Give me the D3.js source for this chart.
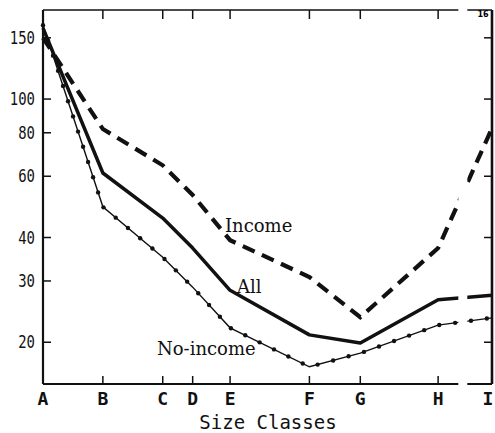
<!DOCTYPE html>
<html>
<head>
<meta charset="utf-8">
<script src="https://cdn.jsdelivr.net/npm/d3@7"></script>
<style>
  body { margin: 0; background: #fff; }
  svg { display: block; }
  .tick-label { font-family: "DejaVu Sans Mono", monospace; font-size: 17px; fill: #111; }
  .cat-label { font-family: "DejaVu Sans Mono", monospace; font-size: 18px; font-weight: bold; fill: #111; }
  .series-label { font-family: "DejaVu Serif", serif; font-size: 18px; fill: #111; }
  .title { font-family: "DejaVu Sans Mono", monospace; font-size: 19px; fill: #111; }
</style>
</head>
<body>
<div id="chart"></div>
<script>
// size classes and where they sit on the (uneven) class scale
var classes = ["A", "B", "C", "D", "E", "F", "G", "H", "I"]
var classMarks = [0, 4, 8, 10, 12.5, 17.8, 21.2, 26.4, 30]

// series values
var incomeValues = [150, 82, 64.5, 53, 39.3, 30.8, 23.6, 37.3, 82.5]
var allValues = [160, 61.3, 45.5, 37.3, 28.2, 21.0, 19.9, 26.5, 27.3]
var noIncomeValues = [163, 49, 35.1, 28.8, 22.0, 17.0, 18.6, 22.4, 23.5]

var yTicks = [20, 30, 40, 60, 80, 100, 150]
var yTicksRight = [20, 40, 60, 100, 150]

/**
 * build the rows for one series
 * @param {Array} values - y values
 */
function makeRows(values) {
    return values.map(function (v, i) {
        return { cls: classes[i], mark: classMarks[i], value: v }
    })
}

function drawChart() {
    var width = 495
    var height = 433
    var left = 43, right = 492, top = 10, bottom = 384

    var svg = d3.select("#chart")
        .append("svg")
        .attr("width", width)
        .attr("height", height)

    var x = d3.scaleLinear().domain([0, 30]).range([left, right])
    var y = d3.scaleLog().domain([15.17, 180.3]).range([bottom, top])

    var line = d3.line()
        .x(function (d) { return x(d.mark) })
        .y(function (d) { return y(d.value) })

    // frame
    svg.append("line").attr("x1", left).attr("x2", left).attr("y1", top).attr("y2", bottom)
        .attr("stroke", "#111").attr("stroke-width", 2.2)
    svg.append("line").attr("x1", left).attr("x2", right).attr("y1", bottom).attr("y2", bottom)
        .attr("stroke", "#111").attr("stroke-width", 2)
    svg.append("line").attr("x1", left).attr("x2", right).attr("y1", top).attr("y2", top)
        .attr("stroke", "#111").attr("stroke-width", 1.6)
    svg.append("line").attr("x1", right).attr("x2", right).attr("y1", top).attr("y2", bottom)
        .attr("stroke", "#111").attr("stroke-width", 2.6)

    // left axis ticks + labels
    svg.selectAll(".ytick").data(yTicks).enter().append("line")
        .attr("x1", left).attr("x2", left + 8)
        .attr("y1", function (d) { return y(d) }).attr("y2", function (d) { return y(d) })
        .attr("stroke", "#111").attr("stroke-width", 1.5)
    svg.selectAll(".ylab").data(yTicks).enter().append("text")
        .attr("class", "tick-label")
        .attr("x", 35).attr("y", function (d) { return y(d) })
        .attr("dy", "0.36em")
        .attr("text-anchor", "end")
        .attr("transform", "translate(35,0) scale(0.82,1) translate(-35,0)")
        .text(function (d) { return d })

    // right axis ticks
    svg.selectAll(".ytickR").data(yTicksRight).enter().append("line")
        .attr("x1", right - 8).attr("x2", right)
        .attr("y1", function (d) { return y(d) }).attr("y2", function (d) { return y(d) })
        .attr("stroke", "#111").attr("stroke-width", 1.5)

    // top and bottom ticks for inner classes
    var inner = makeRows(classMarks).slice(1, classes.length - 1)
    svg.selectAll(".xtickB").data(inner).enter().append("line")
        .attr("x1", function (d) { return x(d.mark) }).attr("x2", function (d) { return x(d.mark) })
        .attr("y1", bottom - 8).attr("y2", bottom)
        .attr("stroke", "#111").attr("stroke-width", 1.5)
    svg.selectAll(".xtickT").data(inner).enter().append("line")
        .attr("x1", function (d) { return x(d.mark) }).attr("x2", function (d) { return x(d.mark) })
        .attr("y1", top).attr("y2", top + 9)
        .attr("stroke", "#111").attr("stroke-width", 1.5)

    // class labels (last one pulled in so it stays on the page)
    svg.selectAll(".xlab").data(classes).enter().append("text")
        .attr("class", "cat-label")
        .attr("x", function (d, i) { return i === classes.length - 1 ? x(classMarks[i]) - 4 : x(classMarks[i]) })
        .attr("y", 405)
        .attr("text-anchor", "middle")
        .text(function (d) { return d })

    // series
    svg.append("path").datum(makeRows(incomeValues))
        .attr("d", line).attr("fill", "none")
        .attr("stroke", "#111").attr("stroke-width", 4.2)
        .attr("stroke-dasharray", "13,8")
    svg.append("path").datum(makeRows(allValues))
        .attr("d", line).attr("fill", "none")
        .attr("stroke", "#111").attr("stroke-width", 3.5)
        .attr("stroke-linejoin", "round")
    var noInc = svg.append("path").datum(makeRows(noIncomeValues))
        .attr("d", line).attr("fill", "none")
        .attr("stroke", "#111").attr("stroke-width", 1.4)

    // little dots along the no-income line
    var node = noInc.node()
    var total = node.getTotalLength()
    var dots = d3.range(0, total, 16).map(function (l) { return node.getPointAtLength(l) })
    svg.selectAll(".dot").data(dots).enter().append("circle")
        .attr("cx", function (d) { return d.x }).attr("cy", function (d) { return d.y })
        .attr("r", 2.2).attr("fill", "#111")

    // scale break between H and I
    svg.append("rect")
        .attr("x", x(27.75)).attr("width", x(28.35) - x(27.75))
        .attr("y", 0).attr("height", bottom + 4)
        .attr("fill", "#fff")

    // labels
    svg.append("text").attr("class", "series-label").attr("x", 225).attr("y", 232).text("Income")
    svg.append("text").attr("class", "series-label").attr("x", 237).attr("y", 293).text("All")
    svg.append("text").attr("class", "series-label").attr("x", 157).attr("y", 355).text("No-income")
    svg.append("text").attr("class", "title").attr("x", 268).attr("y", 429)
        .attr("text-anchor", "middle").text("Size Classes")
    svg.append("text").attr("x", 483).attr("y", 17)
        .attr("text-anchor", "middle")
        .style("font-family", "DejaVu Sans").style("font-size", "8px").style("font-weight", "bold")
        .text("16")
}

drawChart()
</script>
</body>
</html>
